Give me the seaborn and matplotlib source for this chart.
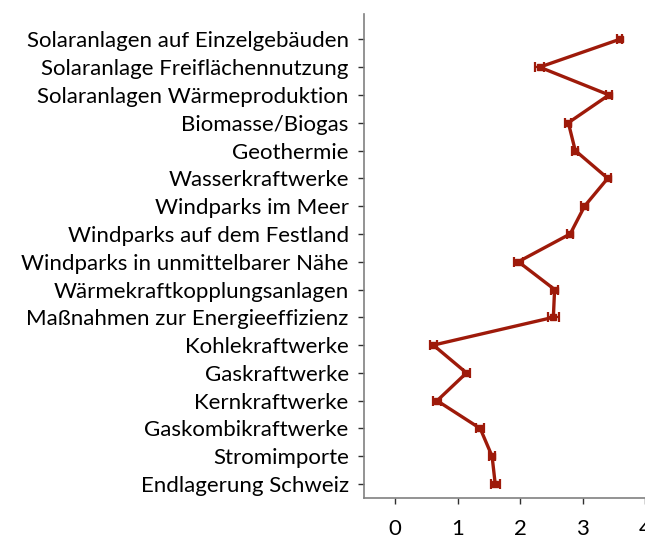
import matplotlib
matplotlib.use("Agg")
import matplotlib.pyplot as plt
import numpy as np
import pandas as pd
import seaborn as sns

categories = [
    "Solaranlagen auf Einzelgebäuden",
    "Solaranlage Freiflächennutzung",
    "Solaranlagen Wärmeproduktion",
    "Biomasse/Biogas",
    "Geothermie",
    "Wasserkraftwerke",
    "Windparks im Meer",
    "Windparks auf dem Festland",
    "Windparks in unmittelbarer Nähe",
    "Wärmekraftkopplungsanlagen",
    "Maßnahmen zur Energieeffizienz",
    "Kohlekraftwerke",
    "Gaskraftwerke",
    "Kernkraftwerke",
    "Gaskombikraftwerke",
    "Stromimporte",
    "Endlagerung Schweiz",
]
means = [3.59, 2.31, 3.42, 2.77, 2.88, 3.40, 3.03, 2.80, 1.97,
         2.55, 2.53, 0.61, 1.14, 0.67, 1.36, 1.55, 1.60]
errors = [0.04, 0.075, 0.05, 0.05, 0.05, 0.05, 0.05, 0.05, 0.075,
          0.05, 0.09, 0.06, 0.06, 0.06, 0.06, 0.05, 0.07]
x_ticks = [0, 1, 2, 3, 4]

RED = "#9e1a0a"
AXIS_GREY = "#808080"

sns.set_theme(style="ticks")
plt.rcParams["font.family"] = ["Lato", "DejaVu Sans"]

df = pd.DataFrame({"label": categories, "mean": means, "err": errors})
df["pos"] = np.arange(len(df))

fig = plt.figure(figsize=(6.45, 5.38), dpi=100)
ax = fig.add_axes([0.5643, 0.0749, 0.4845, 0.899])

sns.lineplot(data=df, x="mean", y="pos", sort=False, orient="y",
             color=RED, linewidth=2.4, ax=ax)
ax.errorbar(df["mean"], df["pos"], xerr=df["err"], fmt="s", color=RED,
            markersize=4.5, ecolor=RED, elinewidth=1.6, capsize=3.4,
            capthick=1.6)

ax.set_xlim(-0.5, 4.5)
ax.set_ylim(16.49, -0.91)
ax.set_xticks(x_ticks)
ax.set_yticks(df["pos"])
ax.set_yticklabels(df["label"])
ax.set_xlabel("")
ax.set_ylabel("")

sns.despine(ax=ax, top=True, right=True)
for side in ("left", "bottom"):
    ax.spines[side].set_color(AXIS_GREY)
    ax.spines[side].set_linewidth(1.2)
ax.tick_params(axis="both", direction="out", length=4, width=1,
               color="#303030", labelsize=16, labelcolor="black")
ax.tick_params(axis="x", pad=11)
ax.tick_params(axis="y", pad=7)

fig.savefig("out.png", dpi=100)
